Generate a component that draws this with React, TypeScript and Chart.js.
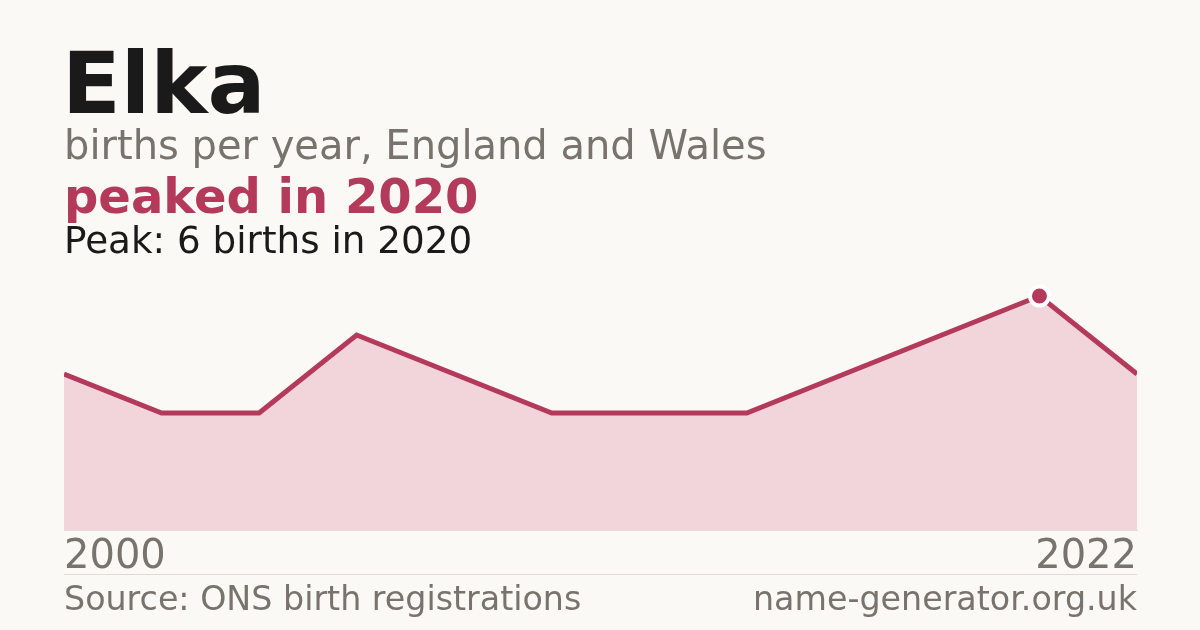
import React, { useEffect, useRef } from "react";
import { Chart, registerables } from "chart.js";

Chart.register(...registerables);

const years = ["2000", "2002", "2004", "2006", "2008", "2010", "2012", "2014", "2016", "2018", "2020", "2022"];
const births = [4, 3, 3, 5, 4, 3, 3, 3, 4, 5, 6, 4];
const peakIndex = 10;

const FONT = "'DejaVu Sans', 'Liberation Sans', sans-serif";
const BG = "#faf9f5";
const ACCENT = "#b43a5c";
const FILL = "#f2d5da";
const GREY = "#78736c";

export default function App() {
  const ref = useRef<HTMLCanvasElement | null>(null);

  useEffect(() => {
    document.body.style.margin = "0";
    document.body.style.background = BG;
    const canvas = ref.current!;
    const chart = new Chart(canvas, {
      type: "line",
      data: {
        labels: years,
        datasets: [
          {
            data: births,
            borderColor: ACCENT,
            backgroundColor: FILL,
            borderWidth: 5,
            fill: "origin",
            tension: 0,
            clip: 0,
            pointRadius: births.map((_, i) => (i === peakIndex ? 9.5 : 0)),
            pointHoverRadius: births.map((_, i) => (i === peakIndex ? 9.5 : 0)),
            pointBackgroundColor: ACCENT,
            pointBorderColor: "#ffffff",
            pointBorderWidth: 4,
          },
        ],
      },
      options: {
        responsive: false,
        animation: false,
        devicePixelRatio: 1,
        layout: { padding: { left: 64, right: 63, top: 257, bottom: 44 } },
        plugins: { legend: { display: false }, tooltip: { enabled: false } },
        events: [],
        scales: {
          x: {
            grid: { display: false, drawTicks: false },
            border: { display: true, color: "#dedbd4", width: 1 },
            ticks: {
              color: GREY,
              font: { family: FONT, size: 40 },
              padding: 4,
              align: "inner",
              maxRotation: 0,
              autoSkip: false,
              callback: (_v: any, i: number) => (i === 0 || i === years.length - 1 ? years[i] : ""),
            },
          },
          y: { display: false, min: 0, max: 7 },
        },
      },
    });
    return () => chart.destroy();
  }, []);

  const text = (s: string, left: number, top: number, size: number, color: string, bold = false, extra: any = {}) => (
    <div
      style={{
        position: "absolute",
        left,
        top,
        fontFamily: FONT,
        fontSize: size,
        lineHeight: 1,
        color,
        fontWeight: bold ? 700 : 400,
        whiteSpace: "nowrap",
        ...extra,
      }}
    >
      {s}
    </div>
  );

  return (
    <div style={{ position: "relative", width: 1200, height: 630, background: BG, overflow: "hidden" }}>
      <canvas ref={ref} width={1200} height={630} style={{ position: "absolute", left: 0, top: 0, width: 1200, height: 630 }} />
      {text("Elka", 62, 40, 86, "#1a1a1a", true)}
      {text("births per year, England and Wales", 64, 125, 40, GREY)}
      {text("peaked in 2020", 64, 172, 48, ACCENT, true)}
      {text("Peak: 6 births in 2020", 64, 222, 37.3, "#1a1a1a")}
      <div style={{ position: "absolute", left: 64, top: 574, width: 1073, height: 1, background: "#dedbd4" }} />
      {text("Source: ONS birth registrations", 64, 582, 33.3, GREY)}
      {text("name-generator.org.uk", 0, 582, 33.3, GREY, false, { right: 63, left: "auto", textAlign: "right" })}
    </div>
  );
}
